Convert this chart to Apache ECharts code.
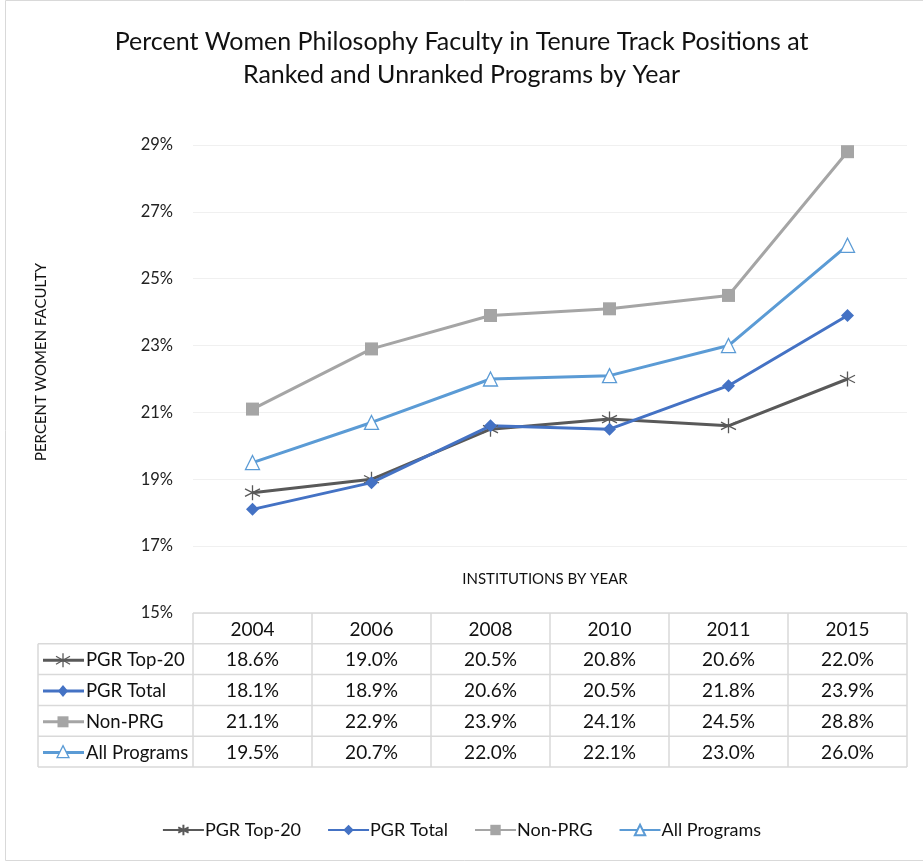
<!DOCTYPE html>
<html>
<head>
<meta charset="utf-8">
<script src="https://cdn.jsdelivr.net/npm/echarts@6/dist/echarts.min.js"></script>
<style>
  html, body { margin: 0; padding: 0; background: #fff; }
  #chart { width: 923px; height: 862px; }
</style>
</head>
<body>
<div id="chart"></div>
<script>
const years = ['2004', '2006', '2008', '2010', '2011', '2015']
const pgrTop20 = [18.6, 19.0, 20.5, 20.8, 20.6, 22.0]
const pgrTotal = [18.1, 18.9, 20.6, 20.5, 21.8, 23.9]
const nonPrg = [21.1, 22.9, 23.9, 24.1, 24.5, 28.8]
const allPrograms = [19.5, 20.7, 22.0, 22.1, 23.0, 26.0]

const seriesNames = ['PGR Top-20', 'PGR Total', 'Non-PRG', 'All Programs']
const seriesData = [pgrTop20, pgrTotal, nonPrg, allPrograms]
const colors = ['#595959', '#4472C4', '#A5A5A5', '#5B9BD5']
const starPath = 'path://M5,0L5,10M0,2.5L10,7.5M0,7.5L10,2.5'
const symbols = [starPath, 'diamond', 'rect', 'triangle']
const symbolSizes = [15, 13, 13, 14]

const font = 'Lato, "Open Sans", sans-serif'
const gridColor = '#d9d9d9'

const chart = echarts.init(document.getElementById('chart'))

function symbolStyle(i) {
  if (i === 0) return { color: 'none', borderColor: colors[0], borderWidth: 1.3 }
  if (i === 3) return { color: '#fff', borderColor: colors[3], borderWidth: 1.3 }
  return { color: colors[i] }
}

chart.setOption({
  animation: false,
  textStyle: { fontFamily: font },
  title: {
    text: 'Percent Women Philosophy Faculty in Tenure Track Positions at\nRanked and Unranked Programs by Year',
    left: 'center',
    top: 20,
    textStyle: { fontSize: 25, fontWeight: 'normal', color: '#111', lineHeight: 33, fontFamily: font }
  },
  legend: {
    bottom: 18,
    left: 'center',
    itemWidth: 41,
    itemHeight: 13,
    itemGap: 26,
    textStyle: { fontSize: 18, color: '#111', fontFamily: font, padding: [0, 0, 0, -4] },
    data: seriesNames
  },
  grid: { left: 193, right: 16, top: 145, bottom: 249 },
  xAxis: {
    type: 'category',
    data: years,
    boundaryGap: true,
    axisLine: { show: false },
    axisTick: { show: false },
    axisLabel: { show: false },
    name: 'INSTITUTIONS BY YEAR',
    nameLocation: 'middle',
    nameGap: -41,
    nameTextStyle: { fontSize: 15, color: '#111', fontFamily: font, padding: [0, 10, 0, 0] }
  },
  yAxis: {
    type: 'value',
    min: 15,
    max: 29,
    interval: 2,
    axisLine: { show: false },
    axisTick: { show: false },
    splitLine: { lineStyle: { color: '#f0f0f0' } },
    axisLabel: { formatter: '{value}%', fontSize: 16.5, color: '#222', margin: 20, fontFamily: font }
  },
  series: seriesNames.map((name, i) => ({
    name,
    type: 'line',
    data: seriesData[i],
    symbol: symbols[i],
    symbolSize: symbolSizes[i],
    lineStyle: { color: colors[i], width: 3 },
    itemStyle: symbolStyle(i)
  }))
})

// data table under the plot, columns aligned to the category axis
const xs = years.map((y, i) => chart.convertToPixel({ xAxisIndex: 0 }, i))
const colW = xs.length > 1 ? xs[1] - xs[0] : 119
const tableLeft = 38
const colLeft = xs[0] - colW / 2
const colRight = xs[xs.length - 1] + colW / 2
const headTop = 613
const rowH = 30.8
const rowTops = seriesNames.map((n, i) => headTop + rowH * (i + 1))
const tableBottom = headTop + rowH * (seriesNames.length + 1)

const g = []
const line = (x1, y1, x2, y2) => g.push({
  type: 'line', shape: { x1, y1, x2, y2 }, style: { stroke: gridColor, lineWidth: 1.5 }
})
const text = (x, y, t, align, size) => g.push({
  type: 'text', x, y,
  style: { text: t, fontSize: size || 19, fill: '#111', align: align || 'center', verticalAlign: 'middle', fontFamily: font }
})

// y axis title
g.push({
  type: 'text', x: 41, y: 362, rotation: Math.PI / 2,
  style: { text: 'PERCENT WOMEN FACULTY', fontSize: 15, fill: '#111', align: 'center', verticalAlign: 'middle', fontFamily: font }
})

// horizontal lines
line(colLeft, headTop, colRight, headTop)
for (let i = 0; i <= seriesNames.length; i++) {
  const y = headTop + rowH * (i + 1)
  line(tableLeft, y, colRight, y)
}
// vertical lines
line(tableLeft, rowTops[0], tableLeft, tableBottom)
for (let c = 0; c <= years.length; c++) {
  const x = colLeft + colW * c
  line(x, headTop, x, tableBottom)
}
// header
years.forEach((y, c) => text(xs[c], headTop + rowH / 2 + 1, y))
// rows
seriesNames.forEach((name, r) => {
  const cy = rowTops[r] + rowH / 2 + 1
  const kx = 63
  g.push({ type: 'line', shape: { x1: 43, y1: cy, x2: 84, y2: cy }, style: { stroke: colors[r], lineWidth: 3 } })
  if (r === 0) {
    g.push({ type: 'line', shape: { x1: kx, y1: cy - 7, x2: kx, y2: cy + 7 }, style: { stroke: colors[0], lineWidth: 1.3 } })
    g.push({ type: 'line', shape: { x1: kx - 7, y1: cy - 4, x2: kx + 7, y2: cy + 4 }, style: { stroke: colors[0], lineWidth: 1.3 } })
    g.push({ type: 'line', shape: { x1: kx - 7, y1: cy + 4, x2: kx + 7, y2: cy - 4 }, style: { stroke: colors[0], lineWidth: 1.3 } })
  } else if (r === 1) {
    g.push({ type: 'polygon', shape: { points: [[kx, cy - 6], [kx + 5, cy], [kx, cy + 6], [kx - 5, cy]] }, style: { fill: colors[1] } })
  } else if (r === 2) {
    g.push({ type: 'rect', shape: { x: kx - 5.5, y: cy - 5.5, width: 11, height: 11 }, style: { fill: colors[2] } })
  } else {
    g.push({ type: 'polygon', shape: { points: [[kx, cy - 7], [kx + 6, cy + 5], [kx - 6, cy + 5]] }, style: { fill: '#fff', stroke: colors[3], lineWidth: 1.3 } })
  }
  text(86, cy, name, 'left', 18.5)
  seriesData[r].forEach((v, c) => text(xs[c], cy, v.toFixed(1) + '%'))
})
// outer frame
g.push({ type: 'rect', shape: { x: 5.5, y: 0.5, width: 940, height: 860 }, style: { fill: 'none', stroke: '#d9d9d9', lineWidth: 1 } })

chart.setOption({ graphic: g })
</script>
</body>
</html>
